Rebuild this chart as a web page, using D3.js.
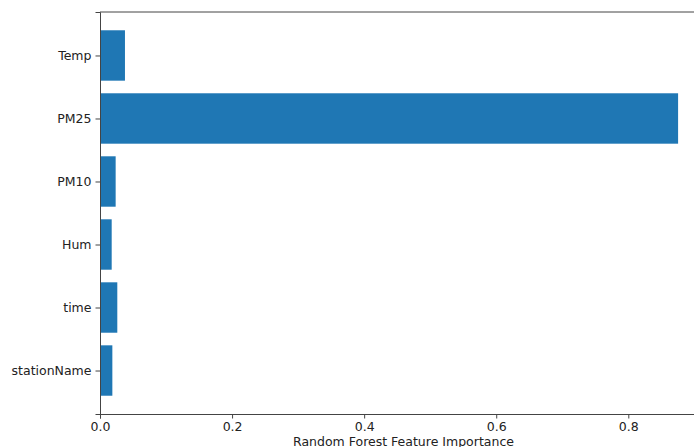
<!DOCTYPE html>
<html>
<head>
<meta charset="utf-8">
<script src="https://cdn.jsdelivr.net/npm/d3@7"></script>
<style>
  body {margin: 0; background: #fff; overflow: hidden}
  text {font-family: 'DejaVu Sans', sans-serif; fill: #222}
</style>
</head>
<body>
<div class="chart"></div>
<script>
// features, bottom to top as matplotlib draws them
var features = ['stationName', 'time', 'Hum', 'PM10', 'PM25', 'Temp']
var importance = [0.0187, 0.0262, 0.0177, 0.0237, 0.8754, 0.0378]
var xTicks = [0, 0.2, 0.4, 0.6, 0.8]

var data = features.map((name, i) => ({name, value: importance[i], i}))

var margin = {left: 100, top: 12, right: -13, bottom: 33}
var W = 694, H = 447
var width = W - margin.left - margin.right
var height = H - margin.top - margin.bottom

var svg = d3.select('.chart').append('svg')
  .attr('width', W).attr('height', H)
var g = svg.append('g').attr('transform', `translate(${margin.left},${margin.top})`)

var xMax = d3.max(importance) * 1.05
var x = d3.scaleLinear().domain([0, xMax]).range([0, width])
// bar i spans i-0.4..i+0.4, plus 5% margins like matplotlib
var pad = 5.8 * 0.05
var y = d3.scaleLinear().domain([-0.4 - pad, features.length - 1 + 0.4 + pad]).range([height, 0])

g.selectAll('rect.bar').data(data).join('rect')
  .attr('class', 'bar')
  .attr('x', x(0))
  .attr('y', d => y(d.i + 0.4))
  .attr('width', d => x(d.value) - x(0))
  .attr('height', d => y(d.i - 0.4) - y(d.i + 0.4))
  .attr('fill', '#1f77b4')

var xAxis = g.append('g').attr('transform', `translate(0,${height})`)
  .call(d3.axisBottom(x).tickValues(xTicks).tickFormat(d3.format('.1f')).tickSizeOuter(0).tickSize(4.5).tickPadding(4))
var yAxis = g.append('g')
  .call(d3.axisLeft(y).tickValues(data.map(d => d.i)).tickFormat(i => features[i]).tickSizeOuter(0).tickSize(4.5).tickPadding(4))

svg.selectAll('.domain, .tick line').attr('stroke', '#444').attr('stroke-width', 1)
svg.selectAll('.tick text').attr('font-size', 12.5).attr('fill', '#222')
  .attr('font-family', "'DejaVu Sans', sans-serif")

// top and right spines
g.append('line').attr('x1', 0).attr('x2', width).attr('y1', 0).attr('y2', 0)
  .attr('stroke', '#444')
g.append('line').attr('x1', width).attr('x2', width).attr('y1', 0).attr('y2', height)
  .attr('stroke', '#444')

g.append('text')
  .attr('x', width / 2).attr('y', height + 32)
  .attr('text-anchor', 'middle').attr('font-size', 12.5)
  .text('Random Forest Feature Importance')
</script>
</body>
</html>
